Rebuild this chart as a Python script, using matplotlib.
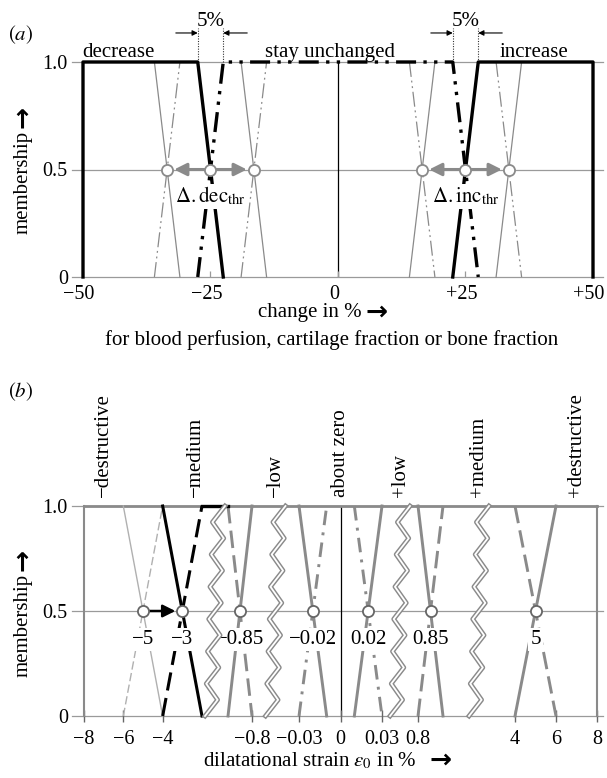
import numpy as np
import matplotlib.pyplot as plt
from matplotlib.transforms import ScaledTranslation

plt.rcParams['font.family'] = ['Liberation Serif', 'DejaVu Sans']
plt.rcParams['mathtext.fontset'] = 'stix'
plt.rcParams['font.size'] = 15

GRID = '#9a9a9a'
GREY = '#8a8a8a'
LIGHT = '#b0b0b0'

DD = (0, (6, 2.2, 1, 2.2, 1, 2.2))          # dash-dot-dot, thick
DD_THIN = (0, (12, 3, 1.5, 3, 1.5, 3))      # dash-dot-dot, thin
DASH = (0, (6, 2.5))
DASHDOT = (0, (5, 2.5, 1, 2.5))

# ---- panel (a): change in % (trapezoid breakpoints a, b, c, d)
dec_set = [-50, -50, -27.5, -22.5]
unch_set = [-27.5, -22.5, 22.5, 27.5]
inc_set = [22.5, 27.5, 50, 50]
dec_thr = [-33.5, -25, -16.5]     # 0.5 crossings: shifted, original, shifted
inc_thr = [16.5, 25, 33.5]
ramp = 5.0
a_ticks = [-50, -25, 0, 25, 50]
a_ticklabels = ['−50', '−25', '0', '+25', '+50']

# ---- panel (b): dilatational strain in %
b_names = ['−destructive', '−medium', '−low', 'about zero', '+low', '+medium', '+destructive']
b_sets = [(-8, -8, -6, -4), (-6, -4, -0.9, -0.8), (-0.9, -0.8, -0.03, -0.01),
          (-0.03, -0.01, 0.01, 0.03), (0.01, 0.03, 0.8, 0.9), (0.8, 0.9, 4, 6), (4, 6, 8, 8)]
b_new = [(-8, -8, -4, -2), (-4, -2, -0.9, -0.8)]   # modified -destructive / -medium
b_styles = ['-', DASH, '-', DASHDOT, '-', DASH, '-']
b_cross = [-5, -3, -0.85, -0.02, 0.02, 0.85, 5]
b_cross_labels = ['−5', '−3', '−0.85', '−0.02', '0.02', '0.85', '5']
b_ticks = [-8, -6, -4, -0.8, -0.03, 0, 0.03, 0.8, 4, 6, 8]
b_ticklabels = ['−8', '−6', '−4', '−0.8', '−0.03', '0', '0.03', '0.8', '4', '6', '8']
b_breaks = [(-2, -0.9), (-0.8, -0.03), (0.03, 0.8), (0.9, 4)]

# broken axis: strain value -> drawing position
knot_v = [-9, -2, -0.9, -0.8, -0.03, 0.03, 0.8, 0.9, 4, 9]
knot_p = [64.3, 202, 228, 252, 299, 382, 418, 443, 515, 617.5]


def fwd(v):
    return np.interp(v, knot_v, knot_p)


def inv(p):
    return np.interp(p, knot_p, knot_v)


fig = plt.figure(figsize=(6.07, 7.78), dpi=100)


def px_axes(left, top, right, bottom):
    W, H = 607, 778
    return fig.add_axes([left / W, 1 - bottom / H, (right - left) / W, (bottom - top) / H])


def clean(ax):
    for sp in ax.spines.values():
        sp.set_visible(False)
    for y in (0, 0.5, 1):
        ax.axhline(y, color=GRID, lw=0.9, zorder=1, clip_on=False)
    ax.plot([0, 0], [0, 1], color='k', lw=0.9, zorder=1)
    ax.set_ylim(0, 1)
    ax.set_yticks([0, 0.5, 1], ['0', '0.5', '1.0'])
    ax.tick_params(axis='y', length=0, pad=3, labelsize=14.5)


def arrow_after(ax, txt, gap, vertical=False):
    # bold arrow glyph placed right after (or above) a text
    if vertical:
        ax.annotate('→', xy=(0.5, 1), xycoords=txt, xytext=(0, gap), textcoords='offset points',
                    rotation=90, ha='center', va='bottom', family='DejaVu Sans',
                    weight='bold', fontsize=19, annotation_clip=False)
    else:
        ax.annotate('→', xy=(1, 0.5), xycoords=txt, xytext=(gap, 0), textcoords='offset points',
                    ha='left', va='center', family='DejaVu Sans',
                    weight='bold', fontsize=19, annotation_clip=False)


# ================= panel (a)
axa = px_axes(72, 62, 603, 277)
axa.set_xlim(-50 - 11 / 5.1, 50 + 10 / 5.1)
clean(axa)

ys = [0, 1, 1, 0]
axa.plot(dec_set, ys, color='k', lw=2.4, zorder=3, clip_on=False)
axa.plot(inc_set, ys, color='k', lw=2.4, zorder=3, clip_on=False)
axa.plot(unch_set, ys, color='k', lw=2.4, ls=DD, zorder=3, clip_on=False)

h = ramp / 2
for c in (dec_thr[0], dec_thr[2]):
    axa.plot([c - h, c + h], [1, 0], color=GREY, lw=0.9, zorder=2, clip_on=False)
    axa.plot([c - h, c + h], [0, 1], color=GREY, lw=0.9, ls=DD_THIN, zorder=2, clip_on=False)
for c in (inc_thr[0], inc_thr[2]):
    axa.plot([c - h, c + h], [0, 1], color=GREY, lw=0.9, zorder=2, clip_on=False)
    axa.plot([c - h, c + h], [1, 0], color=GREY, lw=0.9, ls=DD_THIN, zorder=2, clip_on=False)

for thr, name in ((dec_thr, r'$\Delta\mathrm{.dec}_{\mathrm{thr}}$'),
                  (inc_thr, r'$\Delta\mathrm{.inc}_{\mathrm{thr}}$')):
    mid = thr[1]
    for side in (thr[0], thr[2]):
        axa.annotate('', xy=(side, 0.5), xytext=(mid, 0.5), zorder=4,
                     arrowprops=dict(arrowstyle='-|>,head_length=0.5,head_width=0.25',
                                     color=GREY, lw=2.2, shrinkA=4, shrinkB=5))
    axa.plot(thr, [0.5] * 3, 'o', ms=8, mfc='white', mec=GREY, mew=1.3, zorder=5)
    axa.text(mid, 0.375, name, ha='center', va='center', zorder=4,
             bbox=dict(fc='white', ec='none', pad=1))

# 5 % ramp width markers
for lo, hi in ((dec_set[2], dec_set[3]), (inc_set[0], inc_set[1])):
    for x in (lo, hi):
        axa.plot([x, x], [1, 1.16], color='#333333', lw=0.8, ls=(0, (1, 1.3)), clip_on=False)
    axa.annotate('', xy=(lo, 1.135), xytext=(lo - 4.3, 1.135), annotation_clip=False,
                 arrowprops=dict(arrowstyle='-|>', color='k', lw=0.8, shrinkA=0, shrinkB=0,
                                 mutation_scale=8))
    axa.annotate('', xy=(hi, 1.135), xytext=(hi + 4.7, 1.135), annotation_clip=False,
                 arrowprops=dict(arrowstyle='-|>', color='k', lw=0.8, shrinkA=0, shrinkB=0,
                                 mutation_scale=8))
    axa.text((lo + hi) / 2, 1.19, '5%', ha='center', va='center', clip_on=False)

axa.text(-50.2, 1.022, 'decrease', ha='left', va='baseline')
axa.text(-1.5, 1.022, 'stay unchanged', ha='center', va='baseline')
axa.text(38.5, 1.022, 'increase', ha='center', va='baseline')

axa.set_xticks(a_ticks, a_ticklabels)
axa.tick_params(axis='x', direction='in', length=4, width=0.9, color=GRID, pad=6,
                labelsize=14.5)
shift = ScaledTranslation(-4 / 100, 0, fig.dpi_scale_trans)
for lab in axa.get_xticklabels():
    lab.set_transform(lab.get_transform() + shift)

fig.text(8 / 607, 1 - 35 / 778, r'$(\mathit{a})$', va='center', ha='left', fontsize=15)
t = fig.text(23 / 607, 1 - 182 / 778, 'membership', rotation=90, ha='center', va='center')
arrow_after(axa, t, 2, vertical=True)
t = fig.text(258 / 607, 1 - 313 / 778, 'change in %', ha='left', va='center')
arrow_after(axa, t, 3)
fig.text(332 / 607, 1 - 340 / 778, 'for blood perfusion, cartilage fraction or bone fraction',
         ha='center', va='center')

# ================= panel (b)
axb = px_axes(72, 506, 603, 716)
axb.set_xscale('function', functions=(fwd, inv))
axb.set_xlim(inv(72), inv(603))
clean(axb)

axb.plot([b_sets[0][0], b_sets[-1][3]], [1, 1], color=GREY, lw=2, zorder=2, clip_on=False)
for i, (s, st) in enumerate(zip(b_sets, b_styles)):
    new = b_new[i] if i < len(b_new) else s
    for old_x, new_x, yy in (((s[0], s[1]), (new[0], new[1]), [0, 1]),
                             ((s[2], s[3]), (new[2], new[3]), [1, 0])):
        if old_x[0] == old_x[1]:
            axb.plot(old_x, yy, color=GREY, lw=1.5, zorder=2, clip_on=False)
        elif old_x == new_x:
            axb.plot(old_x, yy, color=GREY, lw=2.1, ls=st, zorder=2, clip_on=False)
        else:
            axb.plot(old_x, yy, color=LIGHT, lw=1, ls=st, zorder=2, clip_on=False)
            axb.plot(new_x, yy, color='k', lw=2.2, ls=st, zorder=3, clip_on=False)
axb.plot([b_new[1][1], b_new[1][2]], [1, 1], color='k', lw=2.4, zorder=3, clip_on=False)

# zigzag break marks
nz = 14
zy = np.linspace(0, 1, nz)
zoff = np.where(np.arange(nz) % 2 == 0, -6.0, 6.0) + np.linspace(-4, 4, nz)
for lo, hi in b_breaks:
    cpos = (fwd(lo) + fwd(hi)) / 2
    zx = inv(cpos + zoff)
    axb.plot(zx, zy, color=GREY, lw=3.4, zorder=6, clip_on=False)
    axb.plot(zx, zy, color='white', lw=1.3, zorder=7, clip_on=False)

axb.annotate('', xy=(b_cross[1], 0.5), xytext=(b_cross[0], 0.5), zorder=4,
             arrowprops=dict(arrowstyle='-|>,head_length=0.5,head_width=0.25',
                             color='k', lw=1.8, shrinkA=4, shrinkB=5))
axb.plot(b_cross, [0.5] * len(b_cross), 'o', ms=8, mfc='white', mec='#666666', mew=1.3, zorder=8)
for x, lab in zip(b_cross, b_cross_labels):
    axb.text(x, 0.365, lab, ha='center', va='center', zorder=5,
             bbox=dict(fc='white', ec='none', pad=1.5))

for s, name in zip(b_sets, b_names):
    xl = inv((fwd(s[1]) + fwd(s[2])) / 2)
    axb.text(xl, 1.043, name, rotation=90, ha='center', va='bottom')

axb.set_xticks(b_ticks, b_ticklabels)
axb.tick_params(axis='x', direction='inout', length=8, width=1, color='#666666', pad=6,
                labelsize=14.5)

fig.text(8 / 607, 1 - 392 / 778, r'$(\mathit{b})$', va='center', ha='left', fontsize=15)
t = fig.text(23 / 607, 1 - 625 / 778, 'membership', rotation=90, ha='center', va='center')
arrow_after(axb, t, 2, vertical=True)
t = fig.text(203 / 607, 1 - 761 / 778, r'dilatational strain $\varepsilon_0$ in %',
             ha='left', va='center')
arrow_after(axb, t, 9)

fig.savefig('out.png', dpi=100, facecolor='white')
